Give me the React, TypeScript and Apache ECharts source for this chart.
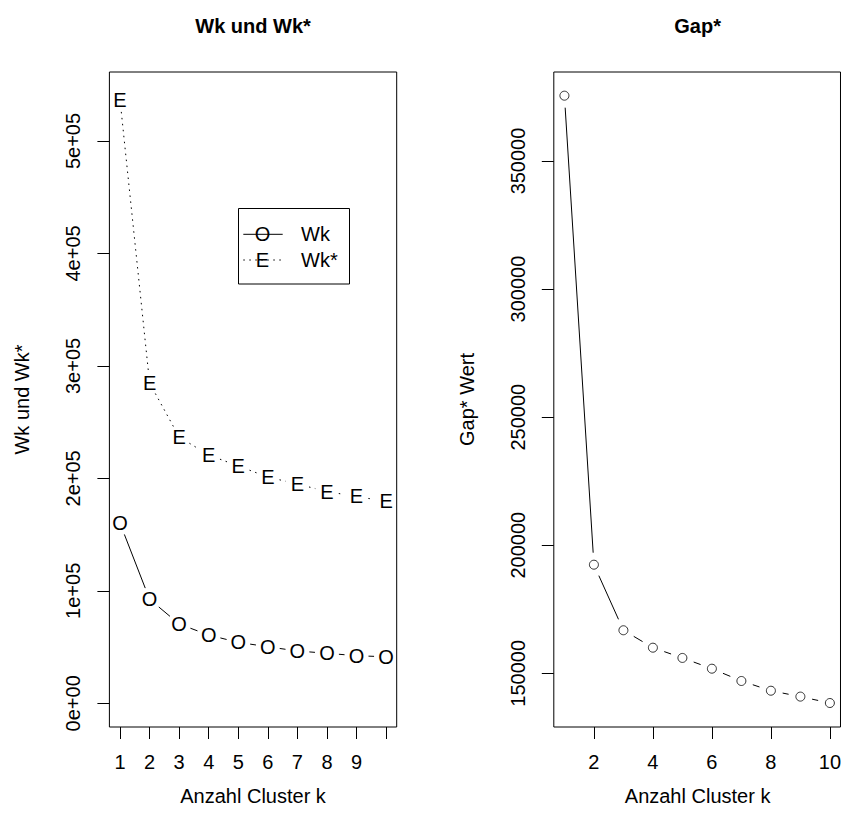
import React, { useEffect, useRef } from "react";
import * as echarts from "echarts";

// ---- data ----
const clusters = [1, 2, 3, 4, 5, 6, 7, 8, 9, 10];
const wk = [160100, 92500, 70500, 60700, 54200, 50300, 46500, 44500, 42300, 41400];
const wkStar = [536500, 284800, 236800, 220800, 211000, 201200, 195000, 188300, 183900, 179600];
const gapStar = [375500, 192400, 166800, 160000, 156000, 151800, 147000, 143200, 140900, 138400];

const leftXTicks = [1, 2, 3, 4, 5, 6, 7, 8, 9, 10];
const leftXLabels = [1, 2, 3, 4, 5, 6, 7, 8, 9];
const leftYTicks = [0, 100000, 200000, 300000, 400000, 500000];
const rightXTicks = [2, 4, 6, 8, 10];
const rightYTicks = [150000, 200000, 250000, 300000, 350000];

const titleLeft = "Wk und Wk*";
const titleRight = "Gap*";
const xTitle = "Anzahl Cluster k";
const yTitleLeft = "Wk und Wk*";
const yTitleRight = "Gap* Wert";
const legendNames = ["Wk", "Wk*"];

// ---- style ----
const FONT = '"Liberation Sans", Arial, Helvetica, sans-serif';
const FS = 20;
const GAP = 12;
const DOT = [1.5, 4.5];

const L = { left: 109.4, top: 72, width: 287.3, height: 655 };
const R = { left: 553.8, top: 72, width: 287.6, height: 655 };

function sci(v: number): string {
  if (v === 0) return "0e+00";
  const e = Math.floor(Math.log10(Math.abs(v)));
  const m = Math.round((v / Math.pow(10, e)) * 100) / 100;
  return `${m}e${e >= 0 ? "+" : "-"}${String(Math.abs(e)).padStart(2, "0")}`;
}

function pairs(ys: number[]) {
  return clusters.slice(0, -1).map((x, i) => [x, ys[i], clusters[i + 1], ys[i + 1]]);
}
function points(ys: number[]) {
  return clusters.map((x, i) => [x, ys[i]]);
}

function segRender(dash: number[] | null) {
  return (_p: any, api: any) => {
    const p1 = api.coord([api.value(0), api.value(1)]);
    const p2 = api.coord([api.value(2), api.value(3)]);
    const dx = p2[0] - p1[0];
    const dy = p2[1] - p1[1];
    const len = Math.hypot(dx, dy);
    if (len <= 2 * GAP) return null;
    const ux = dx / len;
    const uy = dy / len;
    return {
      type: "line",
      shape: {
        x1: p1[0] + ux * GAP,
        y1: p1[1] + uy * GAP,
        x2: p2[0] - ux * GAP,
        y2: p2[1] - uy * GAP,
      },
      style: { stroke: "#000", lineWidth: 1, lineDash: dash || undefined, fill: null },
    };
  };
}

function charRender(ch: string) {
  return (_p: any, api: any) => {
    const p = api.coord([api.value(0), api.value(1)]);
    return {
      type: "text",
      x: p[0],
      y: p[1],
      style: {
        text: ch,
        fontSize: FS,
        fontFamily: FONT,
        fill: "#000",
        align: "center",
        verticalAlign: "middle",
        textAlign: "center",
        textVerticalAlign: "middle",
      },
    };
  };
}

function axisCommon() {
  return {
    type: "value" as const,
    axisLine: { show: false, onZero: false },
    splitLine: { show: false },
  };
}

function tickCfg(values: number[]) {
  return { show: true, customValues: values, length: 12, lineStyle: { color: "#000", width: 1 } };
}

function txt(text: string, x: number, y: number, opts: any = {}) {
  return {
    type: "text",
    x,
    y,
    rotation: opts.rotation || 0,
    style: {
      text,
      fontSize: opts.fontSize || FS,
      fontWeight: opts.fontWeight || "normal",
      fontFamily: FONT,
      fill: "#000",
      align: opts.align || "center",
      verticalAlign: "middle",
      textAlign: opts.align || "center",
      textVerticalAlign: "middle",
    },
  };
}

export default function App() {
  const ref = useRef<HTMLDivElement>(null);
  useEffect(() => {
    if (!ref.current) return;
    const chart = echarts.init(ref.current, null, { renderer: "svg" });
    const lx = L.left + L.width / 2;
    const rx = R.left + R.width / 2;
    const cy = L.top + L.height / 2;
    const option: any = {
      animation: false,
      backgroundColor: "#fff",
      grid: [
        { ...L, show: true, borderColor: "#000", borderWidth: 1, backgroundColor: "transparent", containLabel: false },
        { ...R, show: true, borderColor: "#000", borderWidth: 1, backgroundColor: "transparent", containLabel: false },
      ],
      xAxis: [
        {
          ...axisCommon(),
          gridIndex: 0,
          position: "bottom",
          min: 0.64,
          max: 10.36,
          axisTick: tickCfg(leftXTicks),
          axisLabel: { show: true, customValues: leftXLabels, margin: 25, fontSize: FS, fontFamily: FONT, color: "#000" },
        },
        {
          ...axisCommon(),
          gridIndex: 1,
          position: "bottom",
          min: 0.64,
          max: 10.36,
          axisTick: tickCfg(rightXTicks),
          axisLabel: { show: true, customValues: rightXTicks, margin: 25, fontSize: FS, fontFamily: FONT, color: "#000" },
        },
      ],
      yAxis: [
        {
          ...axisCommon(),
          gridIndex: 0,
          position: "left",
          min: -21070,
          max: 561360,
          axisTick: tickCfg(leftYTicks),
          axisLabel: {
            show: true,
            customValues: leftYTicks,
            rotate: 90,
            margin: 26,
            fontSize: FS,
            fontFamily: FONT,
            color: "#000",
            formatter: (v: number) => sci(v),
          },
        },
        {
          ...axisCommon(),
          gridIndex: 1,
          position: "left",
          min: 129036,
          max: 384745,
          axisTick: tickCfg(rightYTicks),
          axisLabel: {
            show: true,
            customValues: rightYTicks,
            rotate: 90,
            margin: 26,
            fontSize: FS,
            fontFamily: FONT,
            color: "#000",
            formatter: (v: number) => String(v),
          },
        },
      ],
      series: [
        {
          type: "custom",
          name: "Wk lines",
          xAxisIndex: 0,
          yAxisIndex: 0,
          data: pairs(wk),
          encode: { x: [0, 2], y: [1, 3] },
          renderItem: segRender(null),
          silent: true,
        },
        {
          type: "custom",
          name: "Wk",
          xAxisIndex: 0,
          yAxisIndex: 0,
          data: points(wk),
          encode: { x: 0, y: 1 },
          renderItem: charRender("O"),
          silent: true,
        },
        {
          type: "custom",
          name: "Wk* lines",
          xAxisIndex: 0,
          yAxisIndex: 0,
          data: pairs(wkStar),
          encode: { x: [0, 2], y: [1, 3] },
          renderItem: segRender(DOT),
          silent: true,
        },
        {
          type: "custom",
          name: "Wk*",
          xAxisIndex: 0,
          yAxisIndex: 0,
          data: points(wkStar),
          encode: { x: 0, y: 1 },
          renderItem: charRender("E"),
          silent: true,
        },
        {
          type: "custom",
          name: "Gap* lines",
          xAxisIndex: 1,
          yAxisIndex: 1,
          data: pairs(gapStar),
          encode: { x: [0, 2], y: [1, 3] },
          renderItem: segRender(null),
          silent: true,
        },
        {
          type: "scatter",
          name: "Gap*",
          xAxisIndex: 1,
          yAxisIndex: 1,
          data: points(gapStar),
          symbol: "circle",
          symbolSize: 9,
          itemStyle: { color: "#fff", borderColor: "#000", borderWidth: 1 },
          silent: true,
        },
      ],
      graphic: [
        txt(titleLeft, lx, 26, { fontWeight: "bold", fontSize: 20 }),
        txt(titleRight, rx, 26, { fontWeight: "bold", fontSize: 20 }),
        txt(xTitle, lx, 796),
        txt(xTitle, rx, 796),
        txt(yTitleLeft, 22, cy, { rotation: Math.PI / 2 }),
        txt(yTitleRight, 466.5, cy, { rotation: Math.PI / 2 }),
        {
          type: "rect",
          shape: { x: 238.5, y: 208.5, width: 111, height: 75.5 },
          style: { fill: "#fff", stroke: "#000", lineWidth: 1 },
        },
        {
          type: "line",
          shape: { x1: 243.3, y1: 234.3, x2: 282.7, y2: 234.3 },
          style: { stroke: "#000", lineWidth: 1 },
        },
        txt("O", 262.5, 234.3),
        txt(legendNames[0], 301, 234.3, { align: "left" }),
        {
          type: "line",
          shape: { x1: 243.3, y1: 260, x2: 282.7, y2: 260 },
          style: { stroke: "#000", lineWidth: 1, lineDash: DOT },
        },
        txt("E", 262.5, 260),
        txt(legendNames[1], 301, 260, { align: "left" }),
      ],
    };
    chart.setOption(option);
    return () => chart.dispose();
  }, []);
  return (
    <div
      ref={ref}
      style={{ position: "absolute", left: 0, top: 0, width: 844, height: 832, background: "#fff" }}
    />
  );
}
